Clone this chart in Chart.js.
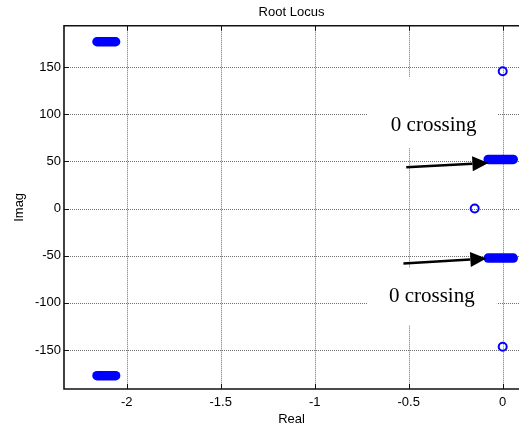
<!DOCTYPE html>
<html><head><meta charset="utf-8">
<script src="https://cdn.jsdelivr.net/npm/chart.js@4/dist/chart.umd.min.js"></script>
<style>html,body{margin:0;padding:0;background:#fff;overflow:hidden}#wrap{width:519px;height:429px;overflow:hidden}</style>
</head><body><div id="wrap"><canvas id="c" width="525" height="429"></canvas></div>
<script>
// ---- axes ----
const xTicks = [-2, -1.5, -1, -0.5, 0];
const yTicks = [-150, -100, -50, 0, 50, 100, 150];
const xLimits = [-2.3335, 0.0867];
const yLimits = [-191.3, 193.8];

// ---- root locus branches (real part, imaginary part) ----
const branch1Re = [-2.158, -2.059];
const branch1Im = [176.8, 176.8];
const branch2Re = [-2.158, -2.059];
const branch2Im = [-177.2, -177.2];
const branch3Re = [-0.077, 0.056];
const branch3Im = [52.0, 52.0];
const branch4Re = [-0.077, 0.056];
const branch4Im = [-52.5, -52.5];

// ---- zeros ----
const zeroRe = [0, -0.149, 0];
const zeroIm = [145.5, 0, -146.5];

// ---- annotations (data coordinates) ----
const noteText = ['0 crossing', '0 crossing'];
const noteRe = [-0.367, -0.377];
const noteIm = [87.5, -92.8];
const noteBoxRe = [[-0.716, -0.029], [-0.721, -0.031]];
const noteBoxIm = [[139.4, 64.1], [-63.1, -123.5]];
const arrowTailRe = [-0.513, -0.528];
const arrowTailIm = [43.7, -58.2];
const arrowTipRe = [-0.076, -0.087];
const arrowTipIm = [48.3, -53.0];

const BLUE = '#0000ff';
const SANS = '"Liberation Sans", Arial, sans-serif';
const SERIF = '"Liberation Serif", "Times New Roman", serif';

const pts = (re, im) => re.map((v, i) => ({x: v, y: im[i]}));
const branchDs = (re, im) => ({
  data: pts(re, im), showLine: true, borderColor: BLUE, backgroundColor: BLUE,
  borderWidth: 9.5, borderCapStyle: 'round', pointRadius: 0, pointHoverRadius: 0
});

const decor = {
  id: 'decor',
  beforeDatasetsDraw(chart) {
    const {ctx, chartArea: a, scales: {x, y}} = chart;
    ctx.save();
    // dotted grid
    ctx.strokeStyle = '#707070'; ctx.lineWidth = 1; ctx.setLineDash([1, 1]);
    xTicks.forEach(v => {
      const p = Math.round(x.getPixelForValue(v)) + 0.5;
      ctx.beginPath(); ctx.moveTo(p, a.top); ctx.lineTo(p, a.bottom); ctx.stroke();
    });
    yTicks.forEach(v => {
      const p = Math.round(y.getPixelForValue(v)) + 0.5;
      ctx.beginPath(); ctx.moveTo(a.left, p); ctx.lineTo(a.right, p); ctx.stroke();
    });
    ctx.setLineDash([]);
    // white backgrounds of the text notes
    ctx.fillStyle = '#ffffff';
    noteBoxRe.forEach((r, i) => {
      const x0 = x.getPixelForValue(r[0]), x1 = x.getPixelForValue(r[1]);
      const y0 = y.getPixelForValue(noteBoxIm[i][0]), y1 = y.getPixelForValue(noteBoxIm[i][1]);
      ctx.fillRect(x0, y0, x1 - x0, y1 - y0);
    });
    // frame
    ctx.strokeStyle = '#111'; ctx.lineWidth = 1.6;
    ctx.beginPath();
    ctx.moveTo(a.right + 2, a.top); ctx.lineTo(a.left, a.top);
    ctx.lineTo(a.left, a.bottom); ctx.lineTo(a.right + 2, a.bottom);
    ctx.stroke();
    // inward ticks
    ctx.lineWidth = 1;
    const tl = 5;
    xTicks.forEach(v => {
      const p = Math.round(x.getPixelForValue(v)) + 0.5;
      ctx.beginPath(); ctx.moveTo(p, a.top); ctx.lineTo(p, a.top + tl);
      ctx.moveTo(p, a.bottom); ctx.lineTo(p, a.bottom - tl); ctx.stroke();
    });
    yTicks.forEach(v => {
      const p = Math.round(y.getPixelForValue(v)) + 0.5;
      ctx.beginPath(); ctx.moveTo(a.left, p); ctx.lineTo(a.left + tl, p); ctx.stroke();
    });
    ctx.restore();
  },
  afterDatasetsDraw(chart) {
    const {ctx, scales: {x, y}} = chart;
    ctx.save();
    ctx.strokeStyle = '#000'; ctx.fillStyle = '#000';
    arrowTailRe.forEach((_, i) => {
      const x0 = x.getPixelForValue(arrowTailRe[i]), y0 = y.getPixelForValue(arrowTailIm[i]);
      const x1 = x.getPixelForValue(arrowTipRe[i]), y1 = y.getPixelForValue(arrowTipIm[i]);
      const ang = Math.atan2(y1 - y0, x1 - x0);
      const hl = 16, hw = 7.5;
      const bx = x1 - hl * Math.cos(ang), by = y1 - hl * Math.sin(ang);
      ctx.lineWidth = 2.5;
      ctx.beginPath(); ctx.moveTo(x0, y0); ctx.lineTo(bx, by); ctx.stroke();
      ctx.beginPath();
      ctx.moveTo(x1, y1);
      ctx.lineTo(bx + hw * Math.sin(ang), by - hw * Math.cos(ang));
      ctx.lineTo(bx - hw * Math.sin(ang), by + hw * Math.cos(ang));
      ctx.closePath(); ctx.fill();
    });
    ctx.font = '21px ' + SERIF;
    ctx.textAlign = 'center'; ctx.textBaseline = 'middle';
    noteText.forEach((t, i) => {
      ctx.fillText(t, x.getPixelForValue(noteRe[i]), y.getPixelForValue(noteIm[i]));
    });
    ctx.restore();
  }
};

const noPad = s => { s.paddingLeft = 0; s.paddingRight = 0; s.paddingTop = 0; s.paddingBottom = 0; };

new Chart(document.getElementById('c'), {
  type: 'scatter',
  data: {
    datasets: [
      branchDs(branch1Re, branch1Im),
      branchDs(branch2Re, branch2Im),
      branchDs(branch3Re, branch3Im),
      branchDs(branch4Re, branch4Im),
      {
        data: pts(zeroRe, zeroIm), showLine: false, pointStyle: 'circle',
        pointRadius: 4, pointHoverRadius: 4, borderWidth: 2,
        borderColor: BLUE, backgroundColor: 'rgba(0,0,0,0)'
      }
    ]
  },
  options: {
    responsive: false, animation: false, events: [],
    layout: {padding: {left: 0, right: 0, top: 0, bottom: 0}},
    plugins: {
      legend: {display: false}, tooltip: {enabled: false},
      title: {
        display: true, text: 'Root Locus', fullSize: false, color: '#000',
        font: {family: SANS, size: 13, weight: 'normal'},
        padding: {top: 5, bottom: 5.1}
      }
    },
    scales: {
      x: {
        type: 'linear', min: xLimits[0], max: xLimits[1],
        afterBuildTicks: s => { s.ticks = xTicks.map(v => ({value: v})); },
        afterFit: s => { s.height = 40; noPad(s); },
        grid: {display: false, drawTicks: false}, border: {display: false},
        ticks: {color: '#000', font: {family: SANS, size: 13}, padding: 6, maxRotation: 0, autoSkip: false,
                callback: v => String(v)},
        title: {display: true, text: 'Real', color: '#000', font: {family: SANS, size: 13}, padding: {top: 0, bottom: 1.9}}
      },
      y: {
        type: 'linear', min: yLimits[0], max: yLimits[1],
        afterBuildTicks: s => { s.ticks = yTicks.map(v => ({value: v})); },
        afterFit: s => { s.width = 64; noPad(s); },
        grid: {display: false, drawTicks: false}, border: {display: false},
        ticks: {color: '#000', font: {family: SANS, size: 13}, padding: 3, autoSkip: false,
                callback: v => String(v)},
        title: {display: true, text: 'Imag', color: '#000', font: {family: SANS, size: 13}, padding: {top: 11.7, bottom: 0}}
      }
    }
  },
  plugins: [decor]
});
</script>
</body></html>
